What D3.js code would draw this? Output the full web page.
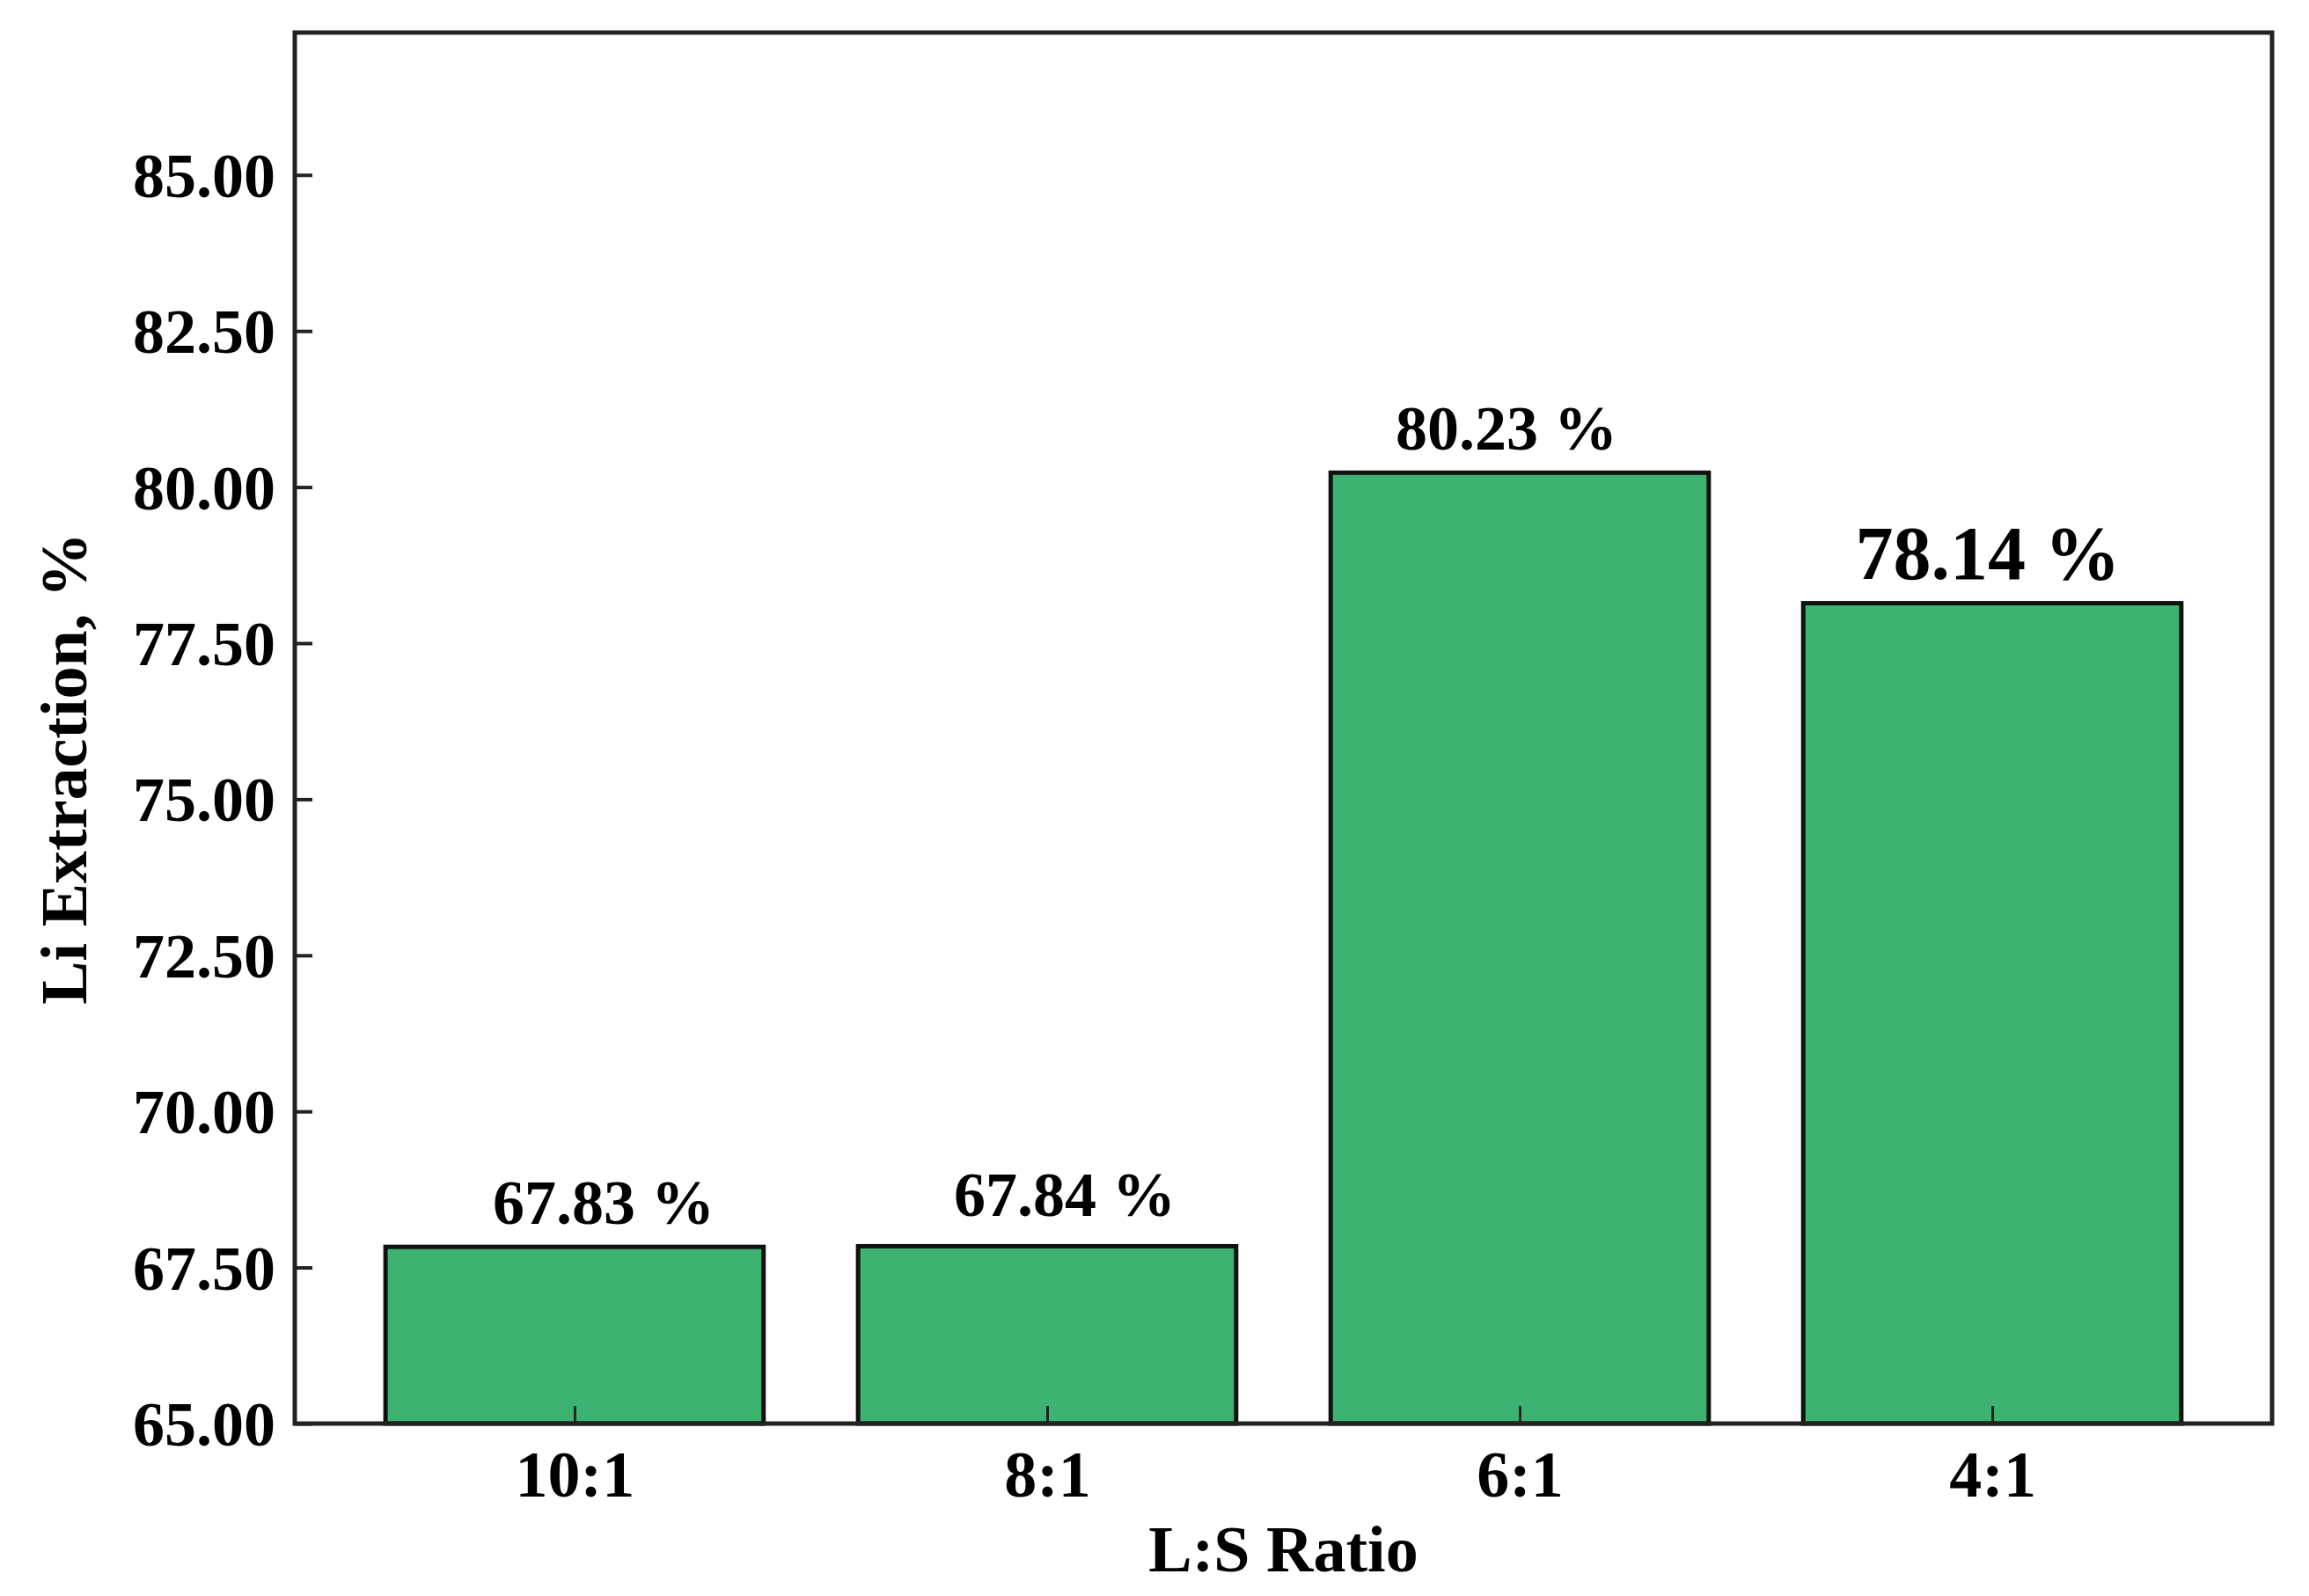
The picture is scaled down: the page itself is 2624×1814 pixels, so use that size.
<!DOCTYPE html>
<html>
<head>
<meta charset="utf-8">
<script src="https://cdn.jsdelivr.net/npm/d3@7"></script>
<style>
  html, body { margin: 0; padding: 0; background: #fff; }
  svg { display: block; }
  text { font-family: "Liberation Serif", "Times New Roman", serif; font-weight: bold; fill: #000; }
</style>
</head>
<body>
<svg id="chart" width="2624" height="1814"></svg>
<script>
// ---- data ----
const categories = ["10:1", "8:1", "6:1", "4:1"];
const values = [67.83, 67.84, 80.23, 78.14];
const valueLabels = ["67.83 %", "67.84 %", "80.23 %", "78.14 %"];
const yTicks = [65, 67.5, 70, 72.5, 75, 77.5, 80, 82.5, 85];
const xTitle = "L:S Ratio";
const yTitle = "Li Extraction, %";

// ---- layout ----
const W = 2624, H = 1814;
const plot = { left: 335, right: 2582, top: 37, bottom: 1618 };
const labelNudge = [33, 20, -15, -5];
const labelLift = [26, 34, 26, 28];
const labelSize = [72, 72, 72, 86];

const svg = d3.select("#chart");

const x = d3.scalePoint()
  .domain(categories)
  .range([plot.left, plot.right])
  .padding(0.592);
const step = x.step();
const barW = step * 0.8;

const y = d3.scaleLinear()
  .domain([65, 87.28])
  .range([plot.bottom, plot.top]);

// bars
svg.append("g").selectAll("rect")
  .data(values)
  .join("rect")
  .attr("x", (d, i) => x(categories[i]) - barW / 2)
  .attr("y", d => y(d))
  .attr("width", barW)
  .attr("height", d => y(65) - y(d))
  .attr("fill", "#3DB371")
  .attr("stroke", "#111")
  .attr("stroke-width", 5);

// value labels
svg.append("g").selectAll("text")
  .data(values)
  .join("text")
  .attr("x", (d, i) => x(categories[i]) + labelNudge[i])
  .attr("y", (d, i) => y(d) - labelLift[i])
  .attr("text-anchor", "middle")
  .attr("font-size", (d, i) => labelSize[i])
  .text((d, i) => valueLabels[i]);

// y axis (ticks inward)
const yAxis = d3.axisLeft(y)
  .tickValues(yTicks)
  .tickFormat(d3.format(".2f"))
  .tickSize(-20)
  .tickPadding(22);
const gy = svg.append("g")
  .attr("transform", `translate(${plot.left},0)`)
  .call(yAxis);
gy.select(".domain").remove();
gy.selectAll(".tick line").attr("stroke", "#222").attr("stroke-width", 4);
gy.selectAll(".tick text")
  .attr("font-size", 72)
  .attr("font-family", '"Liberation Serif", serif')
  .attr("font-weight", "bold")
  .attr("fill", "#000")
  .attr("dy", "0.34em");

// x axis (ticks inward)
const xAxis = d3.axisBottom(x).tickSize(-20).tickPadding(24);
const gx = svg.append("g")
  .attr("transform", `translate(0,${plot.bottom})`)
  .call(xAxis);
gx.select(".domain").remove();
gx.selectAll(".tick line").attr("stroke", "#222").attr("stroke-width", 3);
gx.selectAll(".tick text")
  .attr("font-size", 74)
  .attr("font-family", '"Liberation Serif", serif')
  .attr("font-weight", "bold")
  .attr("fill", "#000")
  .attr("dy", "0.8em");

// frame
svg.append("rect")
  .attr("x", plot.left)
  .attr("y", plot.top)
  .attr("width", plot.right - plot.left)
  .attr("height", plot.bottom - plot.top)
  .attr("fill", "none")
  .attr("stroke", "#222")
  .attr("stroke-width", 5);

// axis titles
svg.append("text")
  .attr("x", (plot.left + plot.right) / 2)
  .attr("y", 1786)
  .attr("text-anchor", "middle")
  .attr("font-size", 74)
  .text(xTitle);

svg.append("text")
  .attr("transform", `translate(98,${(plot.top + plot.bottom) / 2 + 46}) rotate(-90)`)
  .attr("text-anchor", "middle")
  .attr("font-size", 74)
  .text(yTitle);
</script>
</body>
</html>
